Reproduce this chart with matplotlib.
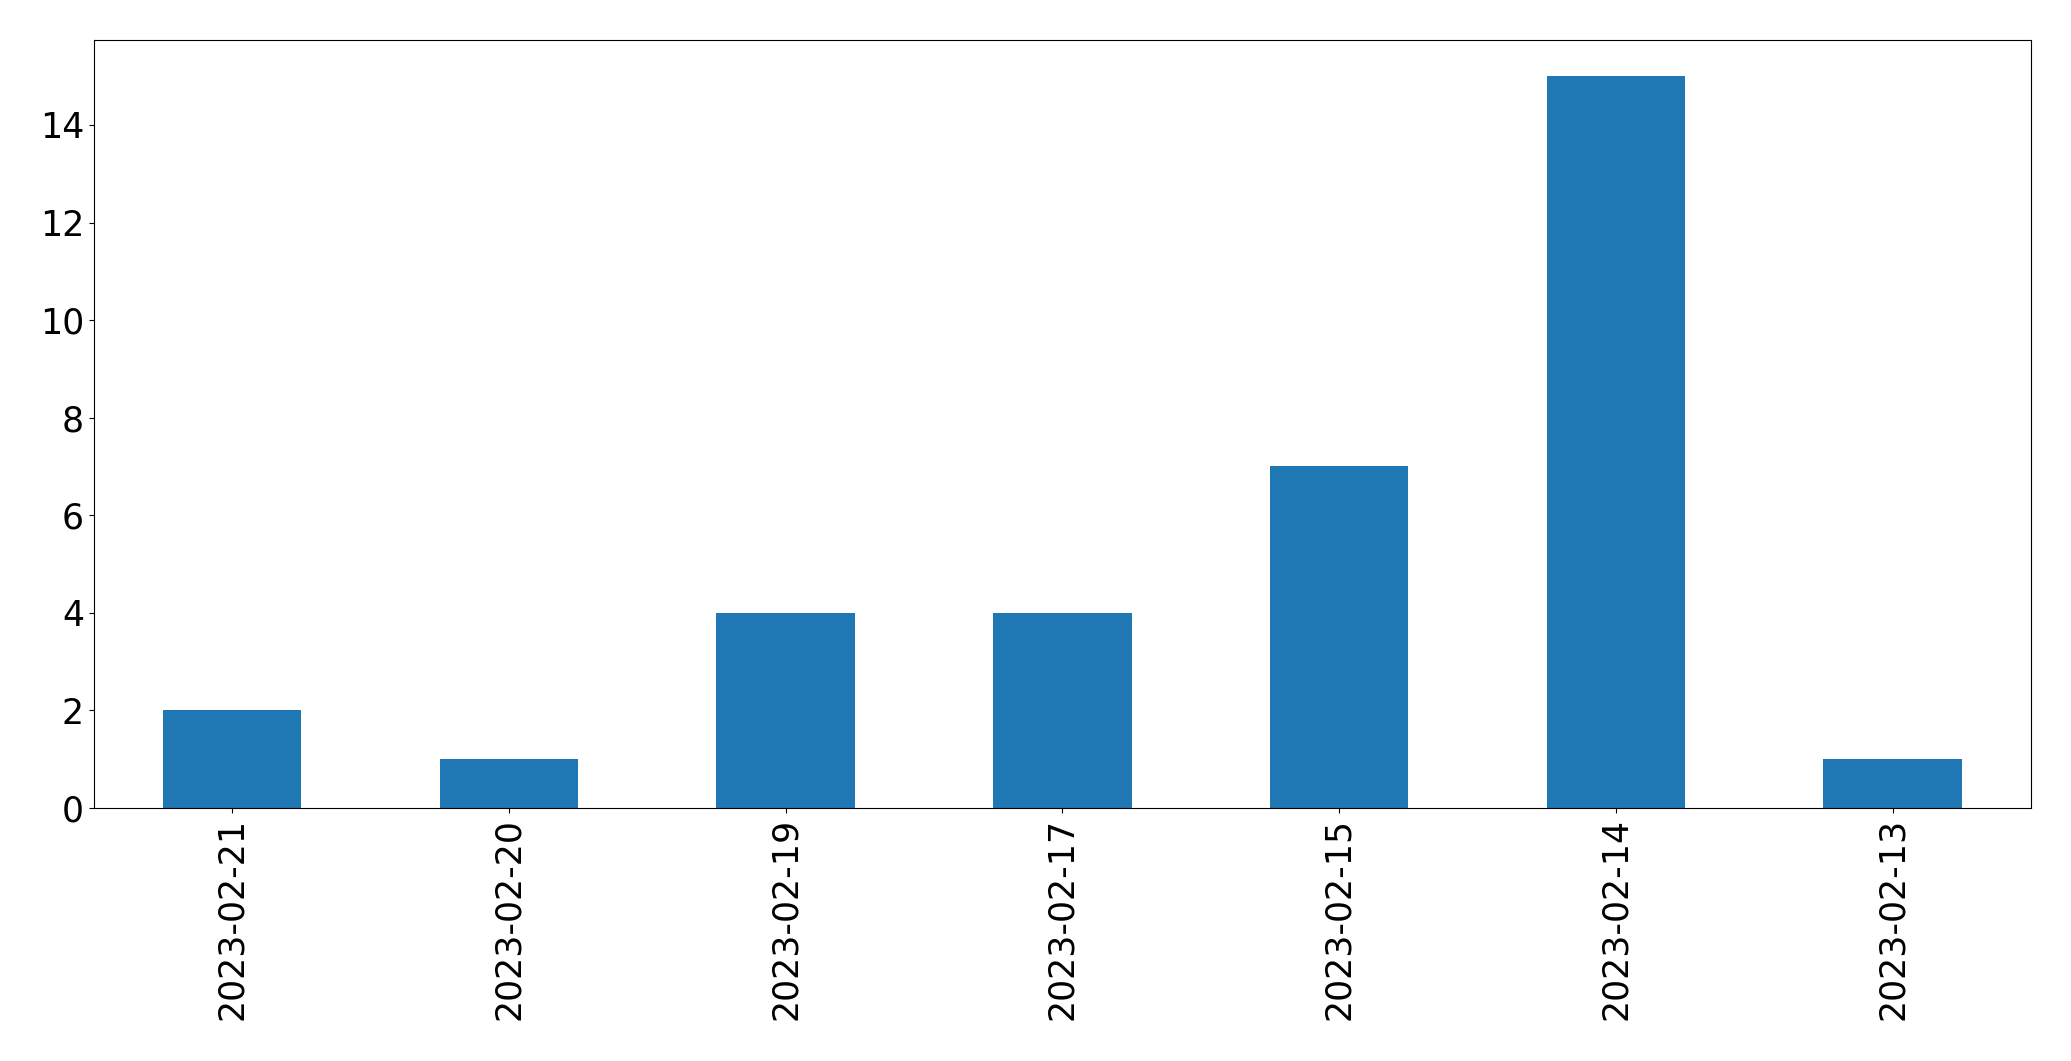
import matplotlib
matplotlib.use("Agg")
import matplotlib.pyplot as plt

dates = ["2023-02-21", "2023-02-20", "2023-02-19", "2023-02-17",
         "2023-02-15", "2023-02-14", "2023-02-13"]
counts = [2, 1, 4, 4, 7, 15, 1]


def main():
    fig = plt.figure(figsize=(20.71, 10.61), dpi=100)
    ax = fig.add_axes([93.8 / 2071, 1 - 808 / 1061, (2031 - 93.8) / 2071, (808 - 39.6) / 1061])

    x = range(len(dates))
    ax.bar(x, counts, width=0.5, color="#1f77b4")
    ax.set_xlim(-0.5, len(dates) - 0.5)
    ax.set_ylim(0, max(counts) * 1.05)
    ax.set_xticks(list(x))
    ax.set_xticklabels(dates, rotation=90)
    ax.tick_params(labelsize=25)

    fig.savefig("out.png", dpi=100)


if __name__ == "__main__":
    main()
